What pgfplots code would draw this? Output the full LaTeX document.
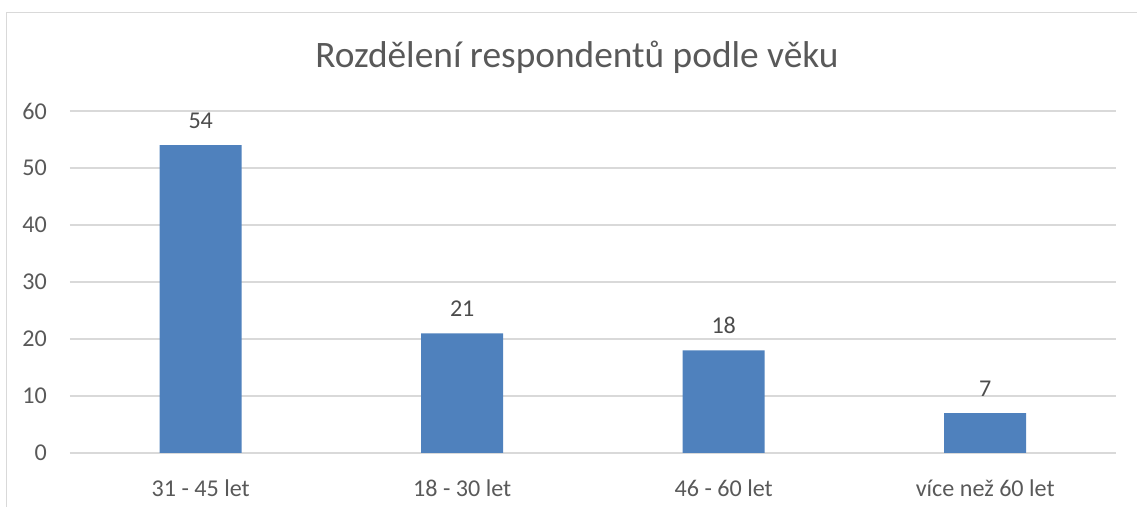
\documentclass[border=0pt]{standalone}
\usepackage{fontspec}
\setmainfont{Carlito}
\usepackage{pgfplots}
\pgfplotsset{compat=1.18}
\definecolor{barblue}{HTML}{4F81BD}
\definecolor{txtgray}{HTML}{595959}
\definecolor{gridgray}{HTML}{D9D9D9}

\begin{document}
\begin{tikzpicture}
\useasboundingbox (-70bp,-54bp) rectangle (1067bp,453bp);
\draw[gridgray, line width=1.3bp] (-63.5bp,-54bp) -- (-63.5bp,440.5bp) -- (1067bp,440.5bp);
\node[txtgray, font=\fontsize{37.5}{44}\selectfont, anchor=base] at (507bp,385bp) {Rozdělení respondentů podle věku};
\begin{axis}[
  at={(0,0)}, anchor=south west,
  scale only axis, width=1046bp, height=342bp,
  ybar, bar width=82bp,
  xmin=-0.5, xmax=3.5, ymin=0, ymax=60,
  ytick={0,10,...,60},
  xtick=data,
  xticklabels={31 - 45 let, 18 - 30 let, 46 - 60 let, více než 60 let},
  axis line style={draw=none},
  tick style={draw=none},
  ymajorgrids, major grid style={gridgray, line width=1.3bp},
  /pgf/number format/assume math mode=true,
  tick label style={txtgray, font=\fontsize{24.2}{29}\selectfont},
  yticklabel style={anchor=east, inner sep=0pt, xshift=-23bp},
  xticklabel style={anchor=base, inner sep=0pt, yshift=-39bp},
  nodes near coords,
  every node near coord/.append style={anchor=base, inner sep=0pt, yshift=17bp,
    text=txtgray!85!black, font=\fontsize{24.2}{29}\selectfont},
]
\addplot[fill=barblue, draw=none] coordinates {(0,54) (1,21) (2,18) (3,7)};
\end{axis}
\end{tikzpicture}
\end{document}
